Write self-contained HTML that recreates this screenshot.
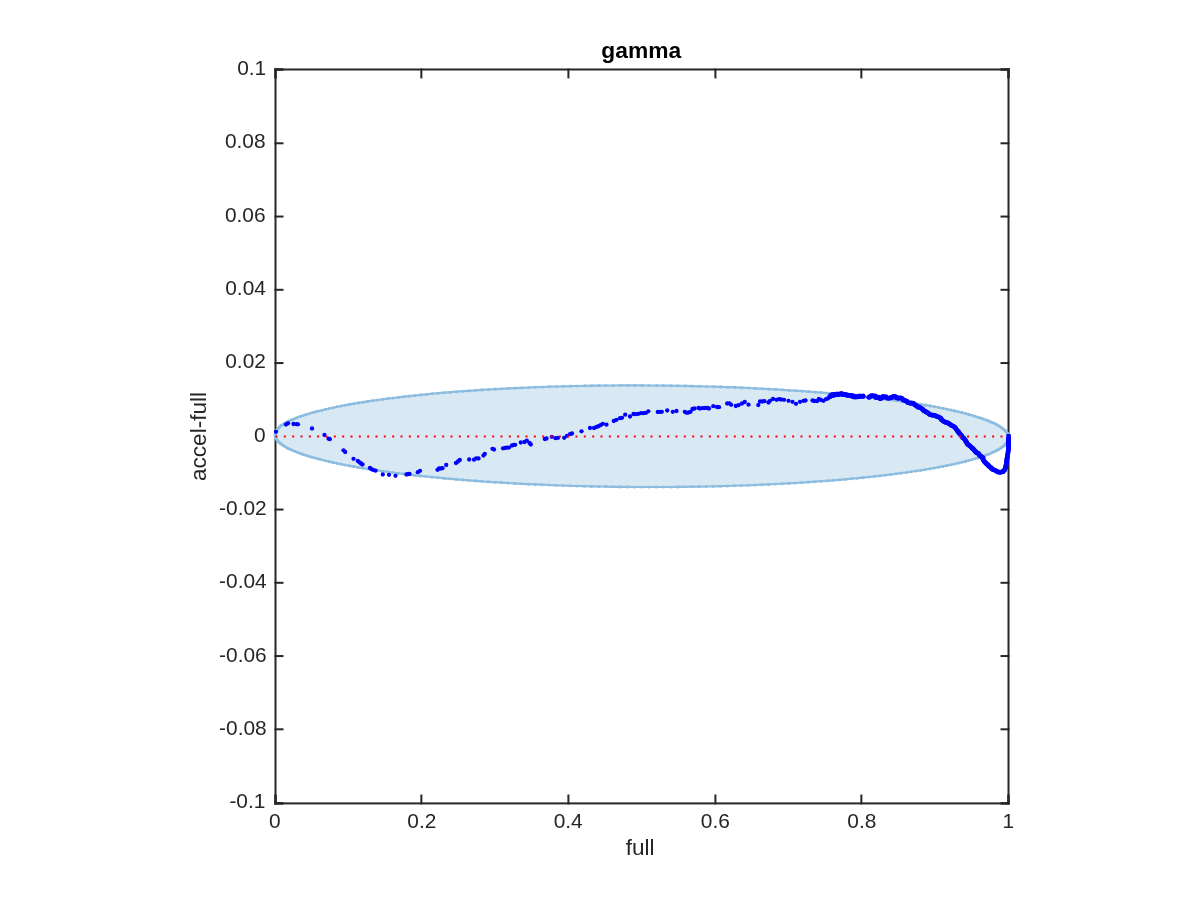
<!DOCTYPE html>
<html lang="en">
<head>
<meta charset="utf-8">
<title>gamma</title>
<style>
html,body{margin:0;padding:0;background:#fff;}
body{width:1200px;height:900px;overflow:hidden;}
svg{display:block;will-change:transform;}
text{font-family:"Liberation Sans",Arial,Helvetica,sans-serif;}
.tk{font-size:20.9px;fill:#262626;}
.lb{font-size:22.6px;fill:#262626;}
.tt{font-size:22.8px;font-weight:bold;fill:#000;}
</style>
</head>
<body>
<svg width="1200" height="900" viewBox="0 0 1200 900">
<rect x="0" y="0" width="1200" height="900" fill="#ffffff"/>
<g stroke="#262626" stroke-width="2" fill="none">
<rect x="275.5" y="69.5" width="733.0" height="733.9"/>
<line x1="421.35" y1="804.4" x2="421.35" y2="794.5"/><line x1="421.35" y1="68.5" x2="421.35" y2="78.4"/>
<line x1="568.4" y1="804.4" x2="568.4" y2="794.5"/><line x1="568.4" y1="68.5" x2="568.4" y2="78.4"/>
<line x1="715.4" y1="804.4" x2="715.4" y2="794.5"/><line x1="715.4" y1="68.5" x2="715.4" y2="78.4"/>
<line x1="861.35" y1="804.4" x2="861.35" y2="794.5"/><line x1="861.35" y1="68.5" x2="861.35" y2="78.4"/>
<line x1="274.5" y1="143.3" x2="283.5" y2="143.3"/><line x1="1009.5" y1="143.3" x2="1000.5" y2="143.3"/>
<line x1="274.5" y1="216.55" x2="283.5" y2="216.55"/><line x1="1009.5" y1="216.55" x2="1000.5" y2="216.55"/>
<line x1="274.5" y1="289.8" x2="283.5" y2="289.8"/><line x1="1009.5" y1="289.8" x2="1000.5" y2="289.8"/>
<line x1="274.5" y1="363.05" x2="283.5" y2="363.05"/><line x1="1009.5" y1="363.05" x2="1000.5" y2="363.05"/>
<line x1="274.5" y1="436.3" x2="283.5" y2="436.3"/><line x1="1009.5" y1="436.3" x2="1000.5" y2="436.3"/>
<line x1="274.5" y1="509.55" x2="283.5" y2="509.55"/><line x1="1009.5" y1="509.55" x2="1000.5" y2="509.55"/>
<line x1="274.5" y1="582.8" x2="283.5" y2="582.8"/><line x1="1009.5" y1="582.8" x2="1000.5" y2="582.8"/>
<line x1="274.5" y1="656.05" x2="283.5" y2="656.05"/><line x1="1009.5" y1="656.05" x2="1000.5" y2="656.05"/>
<line x1="274.5" y1="729.3" x2="283.5" y2="729.3"/><line x1="1009.5" y1="729.3" x2="1000.5" y2="729.3"/>
</g>
<g stroke="#262626" stroke-width="2.6" fill="none">
<line x1="275.5" y1="804.5" x2="275.5" y2="794.5"/><line x1="275.5" y1="68.4" x2="275.5" y2="78.4"/><line x1="1008.5" y1="804.5" x2="1008.5" y2="794.5"/><line x1="1008.5" y1="68.4" x2="1008.5" y2="78.4"/><line x1="274.4" y1="69.5" x2="283.5" y2="69.5"/><line x1="1009.6" y1="69.5" x2="1000.5" y2="69.5"/><line x1="274.4" y1="803.4" x2="283.5" y2="803.4"/><line x1="1009.6" y1="803.4" x2="1000.5" y2="803.4"/>
</g>
<polygon points="1008.7,437.6 1008.6,436.6 1008.4,435.6 1008.1,434.6 1007.6,433.6 1007.0,432.7 1006.2,431.7 1005.3,430.7 1004.2,429.7 1003.0,428.7 1001.7,427.7 1000.2,426.7 998.6,425.7 996.9,424.8 995.0,423.8 993.0,422.8 990.8,421.9 988.5,420.9 986.1,420.0 983.5,419.0 980.9,418.1 978.0,417.2 975.1,416.2 972.0,415.3 968.8,414.4 965.5,413.5 962.0,412.6 958.4,411.8 954.7,410.9 950.9,410.0 947.0,409.2 942.9,408.3 938.8,407.5 934.5,406.7 930.1,405.9 925.6,405.1 920.9,404.3 916.2,403.5 911.4,402.8 906.4,402.0 901.4,401.3 896.3,400.6 891.0,399.9 885.7,399.2 880.3,398.5 874.7,397.9 869.1,397.2 863.4,396.6 857.7,396.0 851.8,395.4 845.8,394.8 839.8,394.2 833.7,393.7 827.5,393.1 821.3,392.6 815.0,392.1 808.6,391.6 802.1,391.1 795.6,390.7 789.1,390.3 782.4,389.8 775.8,389.4 769.0,389.1 762.3,388.7 755.4,388.4 748.6,388.0 741.7,387.7 734.7,387.4 727.7,387.2 720.7,386.9 713.7,386.7 706.6,386.5 699.5,386.3 692.3,386.1 685.2,385.9 678.0,385.8 670.9,385.7 663.7,385.6 656.5,385.5 649.3,385.5 642.1,385.4 634.9,385.4 627.7,385.4 620.5,385.4 613.3,385.5 606.1,385.5 599.0,385.6 591.8,385.7 584.7,385.8 577.6,386.0 570.5,386.1 563.5,386.3 556.5,386.5 549.5,386.7 542.5,387.0 535.6,387.2 528.7,387.5 521.9,387.8 515.1,388.1 508.4,388.4 501.7,388.8 495.1,389.1 488.5,389.5 482.0,389.9 475.6,390.3 469.2,390.8 462.8,391.2 456.6,391.7 450.4,392.2 444.3,392.7 438.3,393.2 432.3,393.7 426.5,394.3 420.7,394.9 415.0,395.5 409.4,396.1 403.8,396.7 398.4,397.3 393.1,398.0 387.8,398.6 382.7,399.3 377.6,400.0 372.7,400.7 367.8,401.4 363.1,402.2 358.5,402.9 354.0,403.7 349.6,404.4 345.3,405.2 341.1,406.0 337.0,406.8 333.1,407.7 329.3,408.5 325.6,409.3 322.0,410.2 318.5,411.0 315.2,411.9 312.0,412.8 308.9,413.7 305.9,414.6 303.1,415.5 300.4,416.4 297.8,417.3 295.4,418.3 293.1,419.2 291.0,420.1 288.9,421.1 287.0,422.0 285.3,423.0 283.7,424.0 282.2,424.9 280.8,425.9 279.6,426.9 278.6,427.9 277.7,428.9 276.9,429.8 276.2,430.8 275.8,431.8 275.4,432.8 275.2,433.8 275.1,434.8 275.2,435.8 275.4,436.8 275.7,437.8 276.2,438.8 276.8,439.8 277.6,440.8 278.5,441.8 279.6,442.8 280.8,443.8 282.1,444.8 283.6,445.7 285.2,446.7 286.9,447.7 288.8,448.7 290.8,449.6 293.0,450.6 295.3,451.5 297.7,452.5 300.3,453.4 302.9,454.4 305.8,455.3 308.7,456.2 311.8,457.1 315.0,458.0 318.3,458.9 321.8,459.8 325.4,460.7 329.1,461.6 332.9,462.4 336.8,463.3 340.9,464.1 345.0,465.0 349.3,465.8 353.7,466.6 358.2,467.4 362.9,468.2 367.6,468.9 372.4,469.7 377.4,470.4 382.4,471.2 387.5,471.9 392.8,472.6 398.1,473.3 403.5,473.9 409.1,474.6 414.7,475.3 420.4,475.9 426.1,476.5 432.0,477.1 438.0,477.7 444.0,478.3 450.1,478.8 456.3,479.3 462.5,479.9 468.8,480.4 475.2,480.9 481.7,481.3 488.2,481.8 494.7,482.2 501.4,482.6 508.0,483.0 514.8,483.4 521.5,483.8 528.4,484.1 535.2,484.4 542.1,484.7 549.1,485.0 556.1,485.3 563.1,485.5 570.2,485.8 577.2,486.0 584.3,486.2 591.5,486.4 598.6,486.5 605.8,486.6 612.9,486.8 620.1,486.9 627.3,486.9 634.5,487.0 641.7,487.0 648.9,487.0 656.1,487.0 663.3,487.0 670.5,487.0 677.7,486.9 684.8,486.8 692.0,486.7 699.1,486.6 706.2,486.5 713.3,486.3 720.3,486.2 727.3,486.0 734.3,485.7 741.3,485.5 748.2,485.3 755.1,485.0 761.9,484.7 768.7,484.4 775.4,484.0 782.1,483.7 788.7,483.3 795.3,483.0 801.8,482.6 808.2,482.1 814.6,481.7 821.0,481.2 827.2,480.8 833.4,480.3 839.5,479.8 845.5,479.3 851.5,478.7 857.3,478.2 863.1,477.6 868.8,477.0 874.4,476.4 880.0,475.8 885.4,475.1 890.7,474.5 896.0,473.8 901.1,473.1 906.2,472.5 911.1,471.7 916.0,471.0 920.7,470.3 925.3,469.5 929.8,468.8 934.2,468.0 938.5,467.2 942.7,466.4 946.8,465.6 950.7,464.8 954.5,464.0 958.3,463.1 961.8,462.3 965.3,461.4 968.6,460.5 971.8,459.7 974.9,458.8 977.9,457.9 980.7,457.0 983.4,456.1 986.0,455.1 988.4,454.2 990.7,453.3 992.8,452.3 994.9,451.4 996.8,450.4 998.5,449.5 1000.1,448.5 1001.6,447.5 1003.0,446.5 1004.2,445.6 1005.2,444.6 1006.1,443.6 1006.9,442.6 1007.6,441.6 1008.0,440.6 1008.4,439.6 1008.6,438.6" fill="#d9e9f4" stroke="#8cbde0" stroke-width="2.2" stroke-linejoin="round"/>
<g fill="#8cbde0"><circle cx="1008.7" cy="437.6" r="1.55"/><circle cx="1008.6" cy="436.6" r="1.55"/><circle cx="1008.4" cy="435.6" r="1.55"/><circle cx="1008.1" cy="434.6" r="1.55"/><circle cx="1007.6" cy="433.6" r="1.55"/><circle cx="1007.0" cy="432.7" r="1.55"/><circle cx="1006.2" cy="431.7" r="1.55"/><circle cx="1005.3" cy="430.7" r="1.55"/><circle cx="1004.2" cy="429.7" r="1.55"/><circle cx="1003.0" cy="428.7" r="1.55"/><circle cx="1001.7" cy="427.7" r="1.55"/><circle cx="1000.2" cy="426.7" r="1.55"/><circle cx="998.6" cy="425.7" r="1.55"/><circle cx="996.9" cy="424.8" r="1.55"/><circle cx="995.0" cy="423.8" r="1.55"/><circle cx="993.0" cy="422.8" r="1.55"/><circle cx="990.8" cy="421.9" r="1.55"/><circle cx="988.5" cy="420.9" r="1.55"/><circle cx="986.1" cy="420.0" r="1.55"/><circle cx="983.5" cy="419.0" r="1.55"/><circle cx="980.9" cy="418.1" r="1.55"/><circle cx="978.0" cy="417.2" r="1.55"/><circle cx="975.1" cy="416.2" r="1.55"/><circle cx="972.0" cy="415.3" r="1.55"/><circle cx="968.8" cy="414.4" r="1.55"/><circle cx="965.5" cy="413.5" r="1.55"/><circle cx="962.0" cy="412.6" r="1.55"/><circle cx="958.4" cy="411.8" r="1.55"/><circle cx="954.7" cy="410.9" r="1.55"/><circle cx="950.9" cy="410.0" r="1.55"/><circle cx="947.0" cy="409.2" r="1.55"/><circle cx="942.9" cy="408.3" r="1.55"/><circle cx="938.8" cy="407.5" r="1.55"/><circle cx="934.5" cy="406.7" r="1.55"/><circle cx="930.1" cy="405.9" r="1.55"/><circle cx="925.6" cy="405.1" r="1.55"/><circle cx="920.9" cy="404.3" r="1.55"/><circle cx="916.2" cy="403.5" r="1.55"/><circle cx="911.4" cy="402.8" r="1.55"/><circle cx="906.4" cy="402.0" r="1.55"/><circle cx="901.4" cy="401.3" r="1.55"/><circle cx="896.3" cy="400.6" r="1.55"/><circle cx="891.0" cy="399.9" r="1.55"/><circle cx="885.7" cy="399.2" r="1.55"/><circle cx="880.3" cy="398.5" r="1.55"/><circle cx="874.7" cy="397.9" r="1.55"/><circle cx="869.1" cy="397.2" r="1.55"/><circle cx="863.4" cy="396.6" r="1.55"/><circle cx="857.7" cy="396.0" r="1.55"/><circle cx="851.8" cy="395.4" r="1.55"/><circle cx="845.8" cy="394.8" r="1.55"/><circle cx="839.8" cy="394.2" r="1.55"/><circle cx="833.7" cy="393.7" r="1.55"/><circle cx="827.5" cy="393.1" r="1.55"/><circle cx="821.3" cy="392.6" r="1.55"/><circle cx="815.0" cy="392.1" r="1.55"/><circle cx="808.6" cy="391.6" r="1.55"/><circle cx="802.1" cy="391.1" r="1.55"/><circle cx="795.6" cy="390.7" r="1.55"/><circle cx="789.1" cy="390.3" r="1.55"/><circle cx="782.4" cy="389.8" r="1.55"/><circle cx="775.8" cy="389.4" r="1.55"/><circle cx="769.0" cy="389.1" r="1.55"/><circle cx="762.3" cy="388.7" r="1.55"/><circle cx="755.4" cy="388.4" r="1.55"/><circle cx="748.6" cy="388.0" r="1.55"/><circle cx="741.7" cy="387.7" r="1.55"/><circle cx="734.7" cy="387.4" r="1.55"/><circle cx="727.7" cy="387.2" r="1.55"/><circle cx="720.7" cy="386.9" r="1.55"/><circle cx="713.7" cy="386.7" r="1.55"/><circle cx="706.6" cy="386.5" r="1.55"/><circle cx="699.5" cy="386.3" r="1.55"/><circle cx="692.3" cy="386.1" r="1.55"/><circle cx="685.2" cy="385.9" r="1.55"/><circle cx="678.0" cy="385.8" r="1.55"/><circle cx="670.9" cy="385.7" r="1.55"/><circle cx="663.7" cy="385.6" r="1.55"/><circle cx="656.5" cy="385.5" r="1.55"/><circle cx="649.3" cy="385.5" r="1.55"/><circle cx="642.1" cy="385.4" r="1.55"/><circle cx="634.9" cy="385.4" r="1.55"/><circle cx="627.7" cy="385.4" r="1.55"/><circle cx="620.5" cy="385.4" r="1.55"/><circle cx="613.3" cy="385.5" r="1.55"/><circle cx="606.1" cy="385.5" r="1.55"/><circle cx="599.0" cy="385.6" r="1.55"/><circle cx="591.8" cy="385.7" r="1.55"/><circle cx="584.7" cy="385.8" r="1.55"/><circle cx="577.6" cy="386.0" r="1.55"/><circle cx="570.5" cy="386.1" r="1.55"/><circle cx="563.5" cy="386.3" r="1.55"/><circle cx="556.5" cy="386.5" r="1.55"/><circle cx="549.5" cy="386.7" r="1.55"/><circle cx="542.5" cy="387.0" r="1.55"/><circle cx="535.6" cy="387.2" r="1.55"/><circle cx="528.7" cy="387.5" r="1.55"/><circle cx="521.9" cy="387.8" r="1.55"/><circle cx="515.1" cy="388.1" r="1.55"/><circle cx="508.4" cy="388.4" r="1.55"/><circle cx="501.7" cy="388.8" r="1.55"/><circle cx="495.1" cy="389.1" r="1.55"/><circle cx="488.5" cy="389.5" r="1.55"/><circle cx="482.0" cy="389.9" r="1.55"/><circle cx="475.6" cy="390.3" r="1.55"/><circle cx="469.2" cy="390.8" r="1.55"/><circle cx="462.8" cy="391.2" r="1.55"/><circle cx="456.6" cy="391.7" r="1.55"/><circle cx="450.4" cy="392.2" r="1.55"/><circle cx="444.3" cy="392.7" r="1.55"/><circle cx="438.3" cy="393.2" r="1.55"/><circle cx="432.3" cy="393.7" r="1.55"/><circle cx="426.5" cy="394.3" r="1.55"/><circle cx="420.7" cy="394.9" r="1.55"/><circle cx="415.0" cy="395.5" r="1.55"/><circle cx="409.4" cy="396.1" r="1.55"/><circle cx="403.8" cy="396.7" r="1.55"/><circle cx="398.4" cy="397.3" r="1.55"/><circle cx="393.1" cy="398.0" r="1.55"/><circle cx="387.8" cy="398.6" r="1.55"/><circle cx="382.7" cy="399.3" r="1.55"/><circle cx="377.6" cy="400.0" r="1.55"/><circle cx="372.7" cy="400.7" r="1.55"/><circle cx="367.8" cy="401.4" r="1.55"/><circle cx="363.1" cy="402.2" r="1.55"/><circle cx="358.5" cy="402.9" r="1.55"/><circle cx="354.0" cy="403.7" r="1.55"/><circle cx="349.6" cy="404.4" r="1.55"/><circle cx="345.3" cy="405.2" r="1.55"/><circle cx="341.1" cy="406.0" r="1.55"/><circle cx="337.0" cy="406.8" r="1.55"/><circle cx="333.1" cy="407.7" r="1.55"/><circle cx="329.3" cy="408.5" r="1.55"/><circle cx="325.6" cy="409.3" r="1.55"/><circle cx="322.0" cy="410.2" r="1.55"/><circle cx="318.5" cy="411.0" r="1.55"/><circle cx="315.2" cy="411.9" r="1.55"/><circle cx="312.0" cy="412.8" r="1.55"/><circle cx="308.9" cy="413.7" r="1.55"/><circle cx="305.9" cy="414.6" r="1.55"/><circle cx="303.1" cy="415.5" r="1.55"/><circle cx="300.4" cy="416.4" r="1.55"/><circle cx="297.8" cy="417.3" r="1.55"/><circle cx="295.4" cy="418.3" r="1.55"/><circle cx="293.1" cy="419.2" r="1.55"/><circle cx="291.0" cy="420.1" r="1.55"/><circle cx="288.9" cy="421.1" r="1.55"/><circle cx="287.0" cy="422.0" r="1.55"/><circle cx="285.3" cy="423.0" r="1.55"/><circle cx="283.7" cy="424.0" r="1.55"/><circle cx="282.2" cy="424.9" r="1.55"/><circle cx="280.8" cy="425.9" r="1.55"/><circle cx="279.6" cy="426.9" r="1.55"/><circle cx="278.6" cy="427.9" r="1.55"/><circle cx="277.7" cy="428.9" r="1.55"/><circle cx="276.9" cy="429.8" r="1.55"/><circle cx="276.2" cy="430.8" r="1.55"/><circle cx="275.8" cy="431.8" r="1.55"/><circle cx="275.4" cy="432.8" r="1.55"/><circle cx="275.2" cy="433.8" r="1.55"/><circle cx="275.1" cy="434.8" r="1.55"/><circle cx="275.2" cy="435.8" r="1.55"/><circle cx="275.4" cy="436.8" r="1.55"/><circle cx="275.7" cy="437.8" r="1.55"/><circle cx="276.2" cy="438.8" r="1.55"/><circle cx="276.8" cy="439.8" r="1.55"/><circle cx="277.6" cy="440.8" r="1.55"/><circle cx="278.5" cy="441.8" r="1.55"/><circle cx="279.6" cy="442.8" r="1.55"/><circle cx="280.8" cy="443.8" r="1.55"/><circle cx="282.1" cy="444.8" r="1.55"/><circle cx="283.6" cy="445.7" r="1.55"/><circle cx="285.2" cy="446.7" r="1.55"/><circle cx="286.9" cy="447.7" r="1.55"/><circle cx="288.8" cy="448.7" r="1.55"/><circle cx="290.8" cy="449.6" r="1.55"/><circle cx="293.0" cy="450.6" r="1.55"/><circle cx="295.3" cy="451.5" r="1.55"/><circle cx="297.7" cy="452.5" r="1.55"/><circle cx="300.3" cy="453.4" r="1.55"/><circle cx="302.9" cy="454.4" r="1.55"/><circle cx="305.8" cy="455.3" r="1.55"/><circle cx="308.7" cy="456.2" r="1.55"/><circle cx="311.8" cy="457.1" r="1.55"/><circle cx="315.0" cy="458.0" r="1.55"/><circle cx="318.3" cy="458.9" r="1.55"/><circle cx="321.8" cy="459.8" r="1.55"/><circle cx="325.4" cy="460.7" r="1.55"/><circle cx="329.1" cy="461.6" r="1.55"/><circle cx="332.9" cy="462.4" r="1.55"/><circle cx="336.8" cy="463.3" r="1.55"/><circle cx="340.9" cy="464.1" r="1.55"/><circle cx="345.0" cy="465.0" r="1.55"/><circle cx="349.3" cy="465.8" r="1.55"/><circle cx="353.7" cy="466.6" r="1.55"/><circle cx="358.2" cy="467.4" r="1.55"/><circle cx="362.9" cy="468.2" r="1.55"/><circle cx="367.6" cy="468.9" r="1.55"/><circle cx="372.4" cy="469.7" r="1.55"/><circle cx="377.4" cy="470.4" r="1.55"/><circle cx="382.4" cy="471.2" r="1.55"/><circle cx="387.5" cy="471.9" r="1.55"/><circle cx="392.8" cy="472.6" r="1.55"/><circle cx="398.1" cy="473.3" r="1.55"/><circle cx="403.5" cy="473.9" r="1.55"/><circle cx="409.1" cy="474.6" r="1.55"/><circle cx="414.7" cy="475.3" r="1.55"/><circle cx="420.4" cy="475.9" r="1.55"/><circle cx="426.1" cy="476.5" r="1.55"/><circle cx="432.0" cy="477.1" r="1.55"/><circle cx="438.0" cy="477.7" r="1.55"/><circle cx="444.0" cy="478.3" r="1.55"/><circle cx="450.1" cy="478.8" r="1.55"/><circle cx="456.3" cy="479.3" r="1.55"/><circle cx="462.5" cy="479.9" r="1.55"/><circle cx="468.8" cy="480.4" r="1.55"/><circle cx="475.2" cy="480.9" r="1.55"/><circle cx="481.7" cy="481.3" r="1.55"/><circle cx="488.2" cy="481.8" r="1.55"/><circle cx="494.7" cy="482.2" r="1.55"/><circle cx="501.4" cy="482.6" r="1.55"/><circle cx="508.0" cy="483.0" r="1.55"/><circle cx="514.8" cy="483.4" r="1.55"/><circle cx="521.5" cy="483.8" r="1.55"/><circle cx="528.4" cy="484.1" r="1.55"/><circle cx="535.2" cy="484.4" r="1.55"/><circle cx="542.1" cy="484.7" r="1.55"/><circle cx="549.1" cy="485.0" r="1.55"/><circle cx="556.1" cy="485.3" r="1.55"/><circle cx="563.1" cy="485.5" r="1.55"/><circle cx="570.2" cy="485.8" r="1.55"/><circle cx="577.2" cy="486.0" r="1.55"/><circle cx="584.3" cy="486.2" r="1.55"/><circle cx="591.5" cy="486.4" r="1.55"/><circle cx="598.6" cy="486.5" r="1.55"/><circle cx="605.8" cy="486.6" r="1.55"/><circle cx="612.9" cy="486.8" r="1.55"/><circle cx="620.1" cy="486.9" r="1.55"/><circle cx="627.3" cy="486.9" r="1.55"/><circle cx="634.5" cy="487.0" r="1.55"/><circle cx="641.7" cy="487.0" r="1.55"/><circle cx="648.9" cy="487.0" r="1.55"/><circle cx="656.1" cy="487.0" r="1.55"/><circle cx="663.3" cy="487.0" r="1.55"/><circle cx="670.5" cy="487.0" r="1.55"/><circle cx="677.7" cy="486.9" r="1.55"/><circle cx="684.8" cy="486.8" r="1.55"/><circle cx="692.0" cy="486.7" r="1.55"/><circle cx="699.1" cy="486.6" r="1.55"/><circle cx="706.2" cy="486.5" r="1.55"/><circle cx="713.3" cy="486.3" r="1.55"/><circle cx="720.3" cy="486.2" r="1.55"/><circle cx="727.3" cy="486.0" r="1.55"/><circle cx="734.3" cy="485.7" r="1.55"/><circle cx="741.3" cy="485.5" r="1.55"/><circle cx="748.2" cy="485.3" r="1.55"/><circle cx="755.1" cy="485.0" r="1.55"/><circle cx="761.9" cy="484.7" r="1.55"/><circle cx="768.7" cy="484.4" r="1.55"/><circle cx="775.4" cy="484.0" r="1.55"/><circle cx="782.1" cy="483.7" r="1.55"/><circle cx="788.7" cy="483.3" r="1.55"/><circle cx="795.3" cy="483.0" r="1.55"/><circle cx="801.8" cy="482.6" r="1.55"/><circle cx="808.2" cy="482.1" r="1.55"/><circle cx="814.6" cy="481.7" r="1.55"/><circle cx="821.0" cy="481.2" r="1.55"/><circle cx="827.2" cy="480.8" r="1.55"/><circle cx="833.4" cy="480.3" r="1.55"/><circle cx="839.5" cy="479.8" r="1.55"/><circle cx="845.5" cy="479.3" r="1.55"/><circle cx="851.5" cy="478.7" r="1.55"/><circle cx="857.3" cy="478.2" r="1.55"/><circle cx="863.1" cy="477.6" r="1.55"/><circle cx="868.8" cy="477.0" r="1.55"/><circle cx="874.4" cy="476.4" r="1.55"/><circle cx="880.0" cy="475.8" r="1.55"/><circle cx="885.4" cy="475.1" r="1.55"/><circle cx="890.7" cy="474.5" r="1.55"/><circle cx="896.0" cy="473.8" r="1.55"/><circle cx="901.1" cy="473.1" r="1.55"/><circle cx="906.2" cy="472.5" r="1.55"/><circle cx="911.1" cy="471.7" r="1.55"/><circle cx="916.0" cy="471.0" r="1.55"/><circle cx="920.7" cy="470.3" r="1.55"/><circle cx="925.3" cy="469.5" r="1.55"/><circle cx="929.8" cy="468.8" r="1.55"/><circle cx="934.2" cy="468.0" r="1.55"/><circle cx="938.5" cy="467.2" r="1.55"/><circle cx="942.7" cy="466.4" r="1.55"/><circle cx="946.8" cy="465.6" r="1.55"/><circle cx="950.7" cy="464.8" r="1.55"/><circle cx="954.5" cy="464.0" r="1.55"/><circle cx="958.3" cy="463.1" r="1.55"/><circle cx="961.8" cy="462.3" r="1.55"/><circle cx="965.3" cy="461.4" r="1.55"/><circle cx="968.6" cy="460.5" r="1.55"/><circle cx="971.8" cy="459.7" r="1.55"/><circle cx="974.9" cy="458.8" r="1.55"/><circle cx="977.9" cy="457.9" r="1.55"/><circle cx="980.7" cy="457.0" r="1.55"/><circle cx="983.4" cy="456.1" r="1.55"/><circle cx="986.0" cy="455.1" r="1.55"/><circle cx="988.4" cy="454.2" r="1.55"/><circle cx="990.7" cy="453.3" r="1.55"/><circle cx="992.8" cy="452.3" r="1.55"/><circle cx="994.9" cy="451.4" r="1.55"/><circle cx="996.8" cy="450.4" r="1.55"/><circle cx="998.5" cy="449.5" r="1.55"/><circle cx="1000.1" cy="448.5" r="1.55"/><circle cx="1001.6" cy="447.5" r="1.55"/><circle cx="1003.0" cy="446.5" r="1.55"/><circle cx="1004.2" cy="445.6" r="1.55"/><circle cx="1005.2" cy="444.6" r="1.55"/><circle cx="1006.1" cy="443.6" r="1.55"/><circle cx="1006.9" cy="442.6" r="1.55"/><circle cx="1007.6" cy="441.6" r="1.55"/><circle cx="1008.0" cy="440.6" r="1.55"/><circle cx="1008.4" cy="439.6" r="1.55"/><circle cx="1008.6" cy="438.6" r="1.55"/></g>
<g fill="#0000ff">
<circle cx="276.0" cy="431.8" r="2.15"/><circle cx="286.0" cy="424.5" r="2.15"/><circle cx="288.0" cy="423.3" r="2.15"/><circle cx="293.5" cy="424.0" r="2.15"/><circle cx="296.5" cy="424.2" r="2.15"/><circle cx="298.0" cy="424.3" r="2.15"/><circle cx="312.0" cy="428.5" r="2.15"/><circle cx="324.5" cy="435.0" r="2.15"/><circle cx="328.5" cy="438.7" r="2.15"/><circle cx="329.8" cy="439.2" r="2.15"/><circle cx="343.5" cy="450.3" r="2.15"/><circle cx="345.2" cy="452.0" r="2.15"/><circle cx="353.5" cy="458.8" r="2.15"/><circle cx="357.8" cy="461.0" r="2.15"/><circle cx="359.5" cy="462.3" r="2.15"/><circle cx="361.0" cy="463.5" r="2.15"/><circle cx="362.5" cy="464.5" r="2.15"/><circle cx="370.0" cy="468.0" r="2.15"/><circle cx="371.5" cy="469.2" r="2.15"/><circle cx="373.0" cy="469.8" r="2.15"/><circle cx="375.5" cy="470.7" r="2.15"/><circle cx="382.8" cy="474.5" r="2.15"/><circle cx="389.0" cy="474.8" r="2.15"/><circle cx="395.5" cy="475.8" r="2.15"/><circle cx="406.5" cy="474.5" r="2.15"/><circle cx="408.0" cy="474.0" r="2.15"/><circle cx="409.5" cy="474.0" r="2.15"/><circle cx="417.8" cy="472.2" r="2.15"/><circle cx="420.0" cy="470.8" r="2.15"/><circle cx="437.5" cy="469.8" r="2.15"/><circle cx="439.0" cy="468.5" r="2.15"/><circle cx="441.0" cy="468.5" r="2.15"/><circle cx="442.5" cy="468.2" r="2.15"/><circle cx="446.2" cy="465.0" r="2.15"/><circle cx="456.0" cy="463.0" r="2.15"/><circle cx="458.0" cy="461.5" r="2.15"/><circle cx="459.8" cy="460.0" r="2.15"/><circle cx="469.2" cy="459.5" r="2.15"/><circle cx="474.0" cy="459.7" r="2.15"/><circle cx="476.2" cy="458.3" r="2.15"/><circle cx="478.5" cy="458.5" r="2.15"/><circle cx="483.5" cy="455.5" r="2.15"/><circle cx="484.8" cy="454.0" r="2.15"/><circle cx="492.5" cy="448.8" r="2.15"/><circle cx="494.0" cy="449.5" r="2.15"/><circle cx="503.0" cy="448.3" r="2.15"/><circle cx="505.0" cy="448.0" r="2.15"/><circle cx="507.0" cy="447.6" r="2.15"/><circle cx="509.0" cy="447.6" r="2.15"/><circle cx="512.0" cy="445.5" r="2.15"/><circle cx="514.0" cy="444.8" r="2.15"/><circle cx="515.2" cy="444.8" r="2.15"/><circle cx="520.8" cy="442.5" r="2.15"/><circle cx="524.5" cy="442.0" r="2.15"/><circle cx="526.8" cy="440.7" r="2.15"/><circle cx="529.5" cy="443.0" r="2.15"/><circle cx="530.8" cy="444.5" r="2.15"/><circle cx="544.8" cy="439.0" r="2.15"/><circle cx="546.5" cy="438.5" r="2.15"/><circle cx="551.8" cy="436.8" r="2.15"/><circle cx="555.5" cy="438.2" r="2.15"/><circle cx="558.0" cy="437.8" r="2.15"/><circle cx="564.2" cy="437.8" r="2.15"/><circle cx="567.0" cy="435.8" r="2.15"/><circle cx="570.0" cy="434.2" r="2.15"/><circle cx="572.0" cy="433.5" r="2.15"/><circle cx="581.5" cy="431.3" r="2.15"/><circle cx="590.0" cy="428.0" r="2.15"/><circle cx="594.0" cy="428.0" r="2.15"/><circle cx="596.5" cy="427.0" r="2.15"/><circle cx="598.5" cy="426.2" r="2.15"/><circle cx="600.5" cy="425.2" r="2.15"/><circle cx="602.8" cy="423.8" r="2.15"/><circle cx="606.5" cy="424.7" r="2.15"/><circle cx="613.8" cy="421.0" r="2.15"/><circle cx="616.5" cy="419.8" r="2.15"/><circle cx="620.0" cy="418.2" r="2.15"/><circle cx="622.0" cy="417.8" r="2.15"/><circle cx="625.2" cy="414.7" r="2.15"/><circle cx="630.0" cy="416.5" r="2.15"/><circle cx="633.5" cy="414.0" r="2.15"/><circle cx="636.0" cy="414.2" r="2.15"/><circle cx="638.5" cy="413.8" r="2.15"/><circle cx="641.0" cy="413.2" r="2.15"/><circle cx="643.5" cy="413.2" r="2.15"/><circle cx="646.0" cy="412.8" r="2.15"/><circle cx="648.3" cy="411.3" r="2.15"/><circle cx="657.8" cy="412.0" r="2.15"/><circle cx="660.0" cy="411.8" r="2.15"/><circle cx="661.8" cy="411.8" r="2.15"/><circle cx="667.2" cy="410.5" r="2.15"/><circle cx="672.8" cy="411.8" r="2.15"/><circle cx="676.5" cy="411.0" r="2.15"/><circle cx="684.8" cy="411.8" r="2.15"/><circle cx="686.5" cy="412.8" r="2.15"/><circle cx="688.5" cy="412.5" r="2.15"/><circle cx="690.5" cy="411.8" r="2.15"/><circle cx="692.5" cy="409.0" r="2.15"/><circle cx="694.5" cy="408.5" r="2.15"/><circle cx="698.5" cy="408.0" r="2.15"/><circle cx="700.0" cy="408.5" r="2.15"/><circle cx="702.5" cy="408.2" r="2.15"/><circle cx="705.0" cy="408.0" r="2.15"/><circle cx="707.5" cy="408.0" r="2.15"/><circle cx="709.0" cy="408.5" r="2.15"/><circle cx="713.3" cy="406.2" r="2.15"/><circle cx="717.0" cy="407.0" r="2.15"/><circle cx="719.0" cy="407.2" r="2.15"/><circle cx="727.2" cy="403.5" r="2.15"/><circle cx="729.5" cy="403.5" r="2.15"/><circle cx="731.2" cy="404.8" r="2.15"/><circle cx="735.8" cy="406.0" r="2.15"/><circle cx="738.5" cy="405.2" r="2.15"/><circle cx="742.0" cy="403.5" r="2.15"/><circle cx="744.8" cy="402.0" r="2.15"/><circle cx="748.5" cy="404.7" r="2.15"/><circle cx="758.3" cy="405.0" r="2.15"/><circle cx="760.0" cy="401.5" r="2.15"/><circle cx="762.5" cy="401.5" r="2.15"/><circle cx="764.5" cy="401.2" r="2.15"/><circle cx="768.5" cy="402.5" r="2.15"/><circle cx="770.0" cy="400.8" r="2.15"/><circle cx="773.0" cy="399.0" r="2.15"/><circle cx="776.5" cy="399.8" r="2.15"/><circle cx="779.0" cy="399.2" r="2.15"/><circle cx="781.0" cy="399.5" r="2.15"/><circle cx="784.0" cy="399.8" r="2.15"/><circle cx="788.5" cy="400.8" r="2.15"/><circle cx="792.5" cy="401.8" r="2.15"/><circle cx="796.0" cy="403.8" r="2.15"/><circle cx="800.0" cy="401.8" r="2.15"/><circle cx="803.5" cy="400.8" r="2.15"/><circle cx="805.5" cy="400.5" r="2.15"/><circle cx="812.5" cy="400.5" r="2.15"/><circle cx="814.5" cy="401.0" r="2.15"/><circle cx="817.0" cy="401.2" r="2.15"/><circle cx="818.8" cy="399.0" r="2.15"/><circle cx="821.0" cy="400.0" r="2.15"/><circle cx="823.5" cy="400.8" r="2.15"/><circle cx="826.0" cy="399.2" r="2.15"/><circle cx="828.0" cy="398.4" r="2.15"/>
</g>
<g fill="#0000ff">
<circle cx="829.5" cy="396.8" r="2.3"/><circle cx="830.3" cy="396.7" r="2.3"/><circle cx="830.4" cy="395.8" r="2.3"/><circle cx="831.1" cy="395.0" r="2.3"/><circle cx="831.8" cy="395.7" r="2.3"/><circle cx="832.4" cy="394.4" r="2.3"/><circle cx="833.3" cy="395.7" r="2.3"/><circle cx="833.9" cy="394.9" r="2.3"/><circle cx="834.5" cy="394.7" r="2.3"/><circle cx="835.2" cy="394.4" r="2.3"/><circle cx="835.9" cy="394.4" r="2.3"/><circle cx="836.7" cy="394.9" r="2.3"/><circle cx="837.2" cy="393.7" r="2.3"/><circle cx="838.0" cy="394.4" r="2.3"/><circle cx="838.7" cy="394.5" r="2.3"/><circle cx="839.4" cy="394.1" r="2.3"/><circle cx="840.2" cy="394.4" r="2.3"/><circle cx="840.7" cy="393.6" r="2.3"/><circle cx="841.7" cy="393.6" r="2.3"/><circle cx="842.3" cy="393.9" r="2.3"/><circle cx="842.9" cy="394.7" r="2.3"/><circle cx="843.6" cy="394.4" r="2.3"/><circle cx="844.4" cy="394.3" r="2.3"/><circle cx="845.0" cy="394.7" r="2.3"/><circle cx="845.7" cy="394.5" r="2.3"/><circle cx="846.4" cy="394.5" r="2.3"/><circle cx="847.0" cy="395.4" r="2.3"/><circle cx="847.7" cy="395.5" r="2.3"/><circle cx="848.5" cy="395.0" r="2.3"/><circle cx="849.1" cy="395.4" r="2.3"/><circle cx="849.8" cy="395.3" r="2.3"/><circle cx="850.4" cy="395.8" r="2.3"/><circle cx="851.2" cy="395.7" r="2.3"/><circle cx="852.1" cy="395.4" r="2.3"/><circle cx="852.4" cy="396.7" r="2.3"/><circle cx="853.4" cy="395.8" r="2.3"/><circle cx="853.9" cy="396.6" r="2.3"/><circle cx="854.4" cy="397.2" r="2.3"/><circle cx="855.4" cy="396.5" r="2.3"/><circle cx="855.9" cy="397.1" r="2.3"/><circle cx="856.2" cy="396.2" r="2.3"/><circle cx="857.1" cy="397.0" r="2.3"/><circle cx="857.8" cy="397.0" r="2.3"/><circle cx="858.4" cy="396.5" r="2.3"/><circle cx="859.2" cy="396.8" r="2.3"/><circle cx="859.7" cy="395.9" r="2.3"/><circle cx="860.6" cy="396.4" r="2.3"/><circle cx="861.3" cy="396.2" r="2.3"/><circle cx="862.0" cy="396.2" r="2.3"/><circle cx="862.6" cy="396.0" r="2.3"/><circle cx="863.4" cy="396.6" r="2.3"/><circle cx="863.1" cy="395.8" r="2.3"/><circle cx="868.6" cy="397.3" r="2.3"/><circle cx="869.4" cy="397.4" r="2.3"/><circle cx="869.9" cy="396.5" r="2.3"/><circle cx="870.6" cy="396.4" r="2.3"/><circle cx="871.1" cy="395.7" r="2.3"/><circle cx="871.8" cy="395.5" r="2.3"/><circle cx="872.7" cy="395.8" r="2.3"/><circle cx="873.4" cy="395.7" r="2.3"/><circle cx="874.0" cy="396.5" r="2.3"/><circle cx="874.8" cy="395.8" r="2.3"/><circle cx="875.5" cy="396.0" r="2.3"/><circle cx="875.8" cy="397.7" r="2.3"/><circle cx="876.6" cy="397.4" r="2.3"/><circle cx="877.4" cy="397.0" r="2.3"/><circle cx="878.0" cy="397.7" r="2.3"/><circle cx="878.8" cy="397.0" r="2.3"/><circle cx="879.4" cy="397.9" r="2.3"/><circle cx="879.9" cy="398.8" r="2.3"/><circle cx="880.6" cy="398.8" r="2.3"/><circle cx="881.8" cy="398.3" r="2.3"/><circle cx="882.0" cy="397.4" r="2.3"/><circle cx="882.7" cy="397.1" r="2.3"/><circle cx="883.0" cy="396.3" r="2.3"/><circle cx="883.3" cy="396.8" r="2.3"/><circle cx="884.1" cy="396.7" r="2.3"/><circle cx="884.6" cy="397.2" r="2.3"/><circle cx="885.6" cy="396.7" r="2.3"/><circle cx="886.3" cy="396.7" r="2.3"/><circle cx="886.7" cy="397.7" r="2.3"/><circle cx="887.2" cy="398.2" r="2.3"/><circle cx="888.1" cy="398.3" r="2.3"/><circle cx="888.8" cy="398.2" r="2.3"/><circle cx="889.5" cy="398.2" r="2.3"/><circle cx="890.2" cy="398.0" r="2.3"/><circle cx="890.8" cy="397.2" r="2.3"/><circle cx="891.5" cy="397.7" r="2.3"/><circle cx="892.2" cy="397.4" r="2.3"/><circle cx="892.8" cy="396.7" r="2.3"/><circle cx="893.5" cy="396.4" r="2.3"/><circle cx="894.4" cy="396.6" r="2.3"/><circle cx="895.1" cy="396.4" r="2.3"/><circle cx="895.7" cy="397.3" r="2.3"/><circle cx="896.3" cy="397.9" r="2.3"/><circle cx="897.1" cy="397.3" r="2.3"/><circle cx="897.7" cy="398.3" r="2.3"/><circle cx="898.4" cy="398.3" r="2.3"/><circle cx="898.9" cy="398.3" r="2.3"/><circle cx="900.0" cy="397.8" r="2.3"/><circle cx="900.8" cy="397.9" r="2.3"/><circle cx="901.4" cy="398.2" r="2.3"/><circle cx="902.0" cy="398.5" r="2.3"/><circle cx="902.6" cy="398.8" r="2.3"/><circle cx="902.9" cy="399.7" r="2.3"/><circle cx="903.4" cy="400.3" r="2.3"/><circle cx="904.1" cy="400.5" r="2.3"/><circle cx="905.0" cy="400.2" r="2.3"/><circle cx="905.5" cy="400.7" r="2.3"/><circle cx="906.1" cy="401.2" r="2.3"/><circle cx="906.9" cy="401.0" r="2.3"/><circle cx="907.3" cy="401.9" r="2.3"/><circle cx="907.6" cy="402.6" r="2.3"/><circle cx="908.4" cy="402.8" r="2.3"/><circle cx="909.0" cy="403.0" r="2.3"/><circle cx="909.8" cy="403.1" r="2.3"/><circle cx="910.3" cy="402.9" r="2.3"/><circle cx="911.0" cy="403.4" r="2.3"/><circle cx="911.7" cy="402.9" r="2.3"/><circle cx="912.4" cy="403.3" r="2.3"/><circle cx="913.0" cy="403.4" r="2.3"/><circle cx="913.8" cy="403.5" r="2.3"/><circle cx="914.3" cy="404.0" r="2.3"/><circle cx="914.5" cy="404.8" r="2.3"/><circle cx="915.1" cy="405.2" r="2.3"/><circle cx="915.9" cy="405.4" r="2.3"/><circle cx="916.4" cy="405.8" r="2.3"/><circle cx="917.0" cy="406.1" r="2.3"/><circle cx="917.4" cy="407.1" r="2.3"/><circle cx="918.1" cy="407.1" r="2.3"/><circle cx="919.0" cy="406.8" r="2.3"/><circle cx="919.5" cy="407.4" r="2.3"/><circle cx="920.1" cy="407.7" r="2.3"/><circle cx="920.8" cy="408.0" r="2.3"/><circle cx="921.4" cy="408.3" r="2.3"/><circle cx="921.8" cy="408.9" r="2.3"/><circle cx="922.5" cy="409.2" r="2.3"/><circle cx="923.1" cy="409.6" r="2.3"/><circle cx="923.3" cy="410.6" r="2.3"/><circle cx="924.0" cy="410.7" r="2.3"/><circle cx="924.7" cy="410.9" r="2.3"/><circle cx="925.1" cy="411.6" r="2.3"/><circle cx="925.9" cy="411.6" r="2.3"/><circle cx="926.3" cy="412.3" r="2.3"/><circle cx="926.8" cy="412.6" r="2.3"/><circle cx="927.7" cy="412.6" r="2.3"/><circle cx="928.2" cy="413.1" r="2.3"/><circle cx="928.7" cy="413.6" r="2.3"/><circle cx="929.3" cy="414.0" r="2.3"/><circle cx="929.6" cy="414.6" r="2.3"/><circle cx="930.5" cy="414.7" r="2.3"/><circle cx="931.2" cy="415.0" r="2.3"/><circle cx="931.9" cy="414.9" r="2.3"/><circle cx="932.5" cy="415.5" r="2.3"/><circle cx="933.3" cy="415.1" r="2.3"/><circle cx="934.0" cy="415.2" r="2.3"/><circle cx="934.6" cy="415.3" r="2.3"/><circle cx="935.2" cy="415.8" r="2.3"/><circle cx="936.0" cy="415.8" r="2.3"/><circle cx="936.4" cy="416.5" r="2.3"/><circle cx="937.2" cy="416.5" r="2.3"/><circle cx="937.8" cy="416.8" r="2.3"/><circle cx="938.4" cy="417.1" r="2.3"/><circle cx="939.3" cy="417.1" r="2.3"/><circle cx="939.7" cy="417.7" r="2.3"/><circle cx="940.4" cy="418.0" r="2.3"/><circle cx="941.0" cy="418.4" r="2.3"/><circle cx="941.1" cy="419.4" r="2.3"/><circle cx="941.9" cy="419.6" r="2.3"/><circle cx="942.3" cy="420.2" r="2.3"/><circle cx="942.7" cy="420.8" r="2.3"/><circle cx="943.3" cy="421.1" r="2.3"/><circle cx="943.9" cy="421.4" r="2.3"/><circle cx="944.5" cy="421.9" r="2.3"/><circle cx="945.2" cy="422.2" r="2.3"/><circle cx="945.8" cy="422.5" r="2.3"/><circle cx="946.7" cy="422.2" r="2.3"/><circle cx="947.2" cy="422.8" r="2.3"/><circle cx="947.9" cy="422.9" r="2.3"/><circle cx="948.5" cy="423.3" r="2.3"/><circle cx="949.0" cy="423.9" r="2.3"/><circle cx="949.7" cy="424.1" r="2.3"/><circle cx="950.3" cy="424.5" r="2.3"/><circle cx="950.8" cy="425.0" r="2.3"/><circle cx="951.3" cy="425.4" r="2.3"/><circle cx="952.1" cy="425.5" r="2.3"/><circle cx="952.7" cy="426.0" r="2.3"/><circle cx="953.3" cy="426.2" r="2.3"/><circle cx="953.9" cy="426.6" r="2.3"/><circle cx="954.4" cy="427.1" r="2.3"/><circle cx="955.1" cy="427.4" r="2.3"/><circle cx="955.5" cy="428.0" r="2.3"/><circle cx="955.9" cy="428.5" r="2.3"/><circle cx="956.1" cy="429.3" r="2.3"/><circle cx="956.7" cy="429.8" r="2.3"/><circle cx="957.0" cy="430.4" r="2.3"/><circle cx="957.4" cy="431.0" r="2.3"/><circle cx="958.3" cy="431.2" r="2.3"/><circle cx="958.5" cy="431.9" r="2.3"/><circle cx="958.6" cy="432.6" r="2.3"/><circle cx="959.0" cy="433.2" r="2.3"/><circle cx="959.9" cy="433.5" r="2.3"/><circle cx="960.2" cy="434.1" r="2.3"/><circle cx="960.3" cy="434.7" r="2.3"/><circle cx="961.0" cy="434.9" r="2.3"/><circle cx="961.4" cy="435.5" r="2.3"/><circle cx="962.0" cy="436.0" r="2.3"/><circle cx="962.1" cy="436.8" r="2.3"/><circle cx="962.5" cy="437.4" r="2.3"/><circle cx="963.0" cy="438.0" r="2.3"/><circle cx="963.9" cy="438.0" r="2.3"/><circle cx="964.1" cy="438.8" r="2.3"/><circle cx="964.6" cy="439.3" r="2.3"/><circle cx="965.3" cy="439.7" r="2.3"/><circle cx="965.2" cy="440.6" r="2.3"/><circle cx="965.5" cy="441.2" r="2.3"/><circle cx="966.4" cy="441.5" r="2.3"/><circle cx="966.3" cy="442.4" r="2.3"/><circle cx="967.0" cy="442.8" r="2.3"/><circle cx="967.3" cy="443.4" r="2.3"/><circle cx="967.3" cy="444.3" r="2.3"/><circle cx="968.0" cy="444.8" r="2.3"/><circle cx="968.9" cy="444.8" r="2.3"/><circle cx="969.2" cy="445.5" r="2.3"/><circle cx="969.7" cy="446.0" r="2.3"/><circle cx="970.3" cy="446.3" r="2.3"/><circle cx="970.9" cy="446.7" r="2.3"/><circle cx="971.4" cy="447.3" r="2.3"/><circle cx="971.7" cy="448.0" r="2.3"/><circle cx="972.6" cy="448.1" r="2.3"/><circle cx="972.7" cy="448.9" r="2.3"/><circle cx="973.3" cy="449.3" r="2.3"/><circle cx="974.0" cy="449.6" r="2.3"/><circle cx="974.3" cy="450.3" r="2.3"/><circle cx="974.6" cy="450.9" r="2.3"/><circle cx="975.2" cy="451.4" r="2.3"/><circle cx="975.9" cy="451.6" r="2.3"/><circle cx="976.0" cy="452.6" r="2.3"/><circle cx="976.7" cy="452.8" r="2.3"/><circle cx="977.3" cy="453.3" r="2.3"/><circle cx="978.3" cy="453.1" r="2.3"/><circle cx="978.6" cy="453.8" r="2.3"/><circle cx="979.2" cy="454.3" r="2.3"/><circle cx="979.2" cy="455.3" r="2.3"/><circle cx="979.9" cy="455.6" r="2.3"/><circle cx="980.6" cy="455.9" r="2.3"/><circle cx="981.0" cy="456.4" r="2.3"/><circle cx="981.4" cy="457.1" r="2.3"/><circle cx="982.0" cy="457.4" r="2.3"/><circle cx="982.9" cy="457.5" r="2.3"/><circle cx="983.2" cy="458.0" r="2.3"/><circle cx="982.8" cy="458.9" r="2.3"/><circle cx="983.2" cy="459.5" r="2.3"/><circle cx="983.3" cy="460.2" r="2.3"/><circle cx="984.0" cy="460.7" r="2.3"/><circle cx="984.4" cy="461.2" r="2.3"/><circle cx="984.5" cy="462.1" r="2.3"/><circle cx="985.2" cy="462.4" r="2.3"/><circle cx="985.9" cy="462.7" r="2.3"/><circle cx="985.9" cy="463.6" r="2.3"/><circle cx="986.7" cy="463.9" r="2.3"/><circle cx="987.0" cy="464.5" r="2.3"/><circle cx="987.9" cy="464.6" r="2.3"/><circle cx="988.0" cy="465.6" r="2.3"/><circle cx="988.9" cy="465.6" r="2.3"/><circle cx="989.0" cy="466.5" r="2.3"/><circle cx="989.8" cy="466.7" r="2.3"/><circle cx="990.4" cy="467.0" r="2.3"/><circle cx="990.9" cy="467.6" r="2.3"/><circle cx="991.1" cy="468.4" r="2.3"/><circle cx="991.9" cy="468.5" r="2.3"/><circle cx="992.4" cy="468.9" r="2.3"/><circle cx="992.8" cy="469.7" r="2.3"/><circle cx="993.5" cy="469.8" r="2.3"/><circle cx="994.2" cy="470.0" r="2.3"/><circle cx="994.9" cy="470.3" r="2.3"/><circle cx="995.6" cy="470.5" r="2.3"/><circle cx="996.1" cy="471.0" r="2.3"/><circle cx="996.5" cy="471.3" r="2.3"/><circle cx="997.2" cy="471.5" r="2.3"/><circle cx="997.7" cy="472.1" r="2.3"/><circle cx="998.5" cy="471.9" r="2.3"/><circle cx="999.1" cy="472.3" r="2.3"/><circle cx="999.9" cy="472.3" r="2.3"/><circle cx="1000.3" cy="472.5" r="2.3"/><circle cx="1000.9" cy="472.0" r="2.3"/><circle cx="1001.7" cy="472.0" r="2.3"/><circle cx="1002.3" cy="471.7" r="2.3"/><circle cx="1003.0" cy="472.0" r="2.3"/><circle cx="1003.3" cy="471.4" r="2.3"/><circle cx="1003.5" cy="470.7" r="2.3"/><circle cx="1004.2" cy="470.3" r="2.3"/><circle cx="1004.8" cy="469.9" r="2.3"/><circle cx="1004.8" cy="469.2" r="2.3"/><circle cx="1005.3" cy="468.6" r="2.3"/><circle cx="1005.3" cy="467.8" r="2.3"/><circle cx="1005.5" cy="467.2" r="2.3"/><circle cx="1005.8" cy="466.5" r="2.3"/><circle cx="1005.8" cy="465.8" r="2.3"/><circle cx="1006.0" cy="465.1" r="2.3"/><circle cx="1006.2" cy="464.5" r="2.3"/><circle cx="1006.4" cy="463.8" r="2.3"/><circle cx="1006.3" cy="463.1" r="2.3"/><circle cx="1006.6" cy="462.4" r="2.3"/><circle cx="1006.7" cy="461.7" r="2.3"/><circle cx="1006.8" cy="461.0" r="2.3"/><circle cx="1006.8" cy="460.3" r="2.3"/><circle cx="1006.9" cy="459.6" r="2.3"/><circle cx="1006.9" cy="458.9" r="2.3"/><circle cx="1007.0" cy="458.2" r="2.3"/><circle cx="1007.1" cy="457.5" r="2.3"/><circle cx="1007.5" cy="456.9" r="2.3"/><circle cx="1007.5" cy="456.2" r="2.3"/><circle cx="1007.5" cy="455.5" r="2.3"/><circle cx="1007.6" cy="454.8" r="2.3"/><circle cx="1007.9" cy="454.1" r="2.3"/><circle cx="1008.0" cy="453.4" r="2.3"/><circle cx="1008.0" cy="452.7" r="2.3"/><circle cx="1008.0" cy="452.0" r="2.3"/><circle cx="1008.1" cy="451.3" r="2.3"/><circle cx="1008.3" cy="450.6" r="2.3"/><circle cx="1008.4" cy="449.9" r="2.3"/><circle cx="1008.3" cy="449.2" r="2.3"/><circle cx="1008.4" cy="448.5" r="2.3"/><circle cx="1008.4" cy="447.8" r="2.3"/><circle cx="1008.6" cy="447.1" r="2.3"/><circle cx="1008.6" cy="446.4" r="2.3"/><circle cx="1008.5" cy="445.7" r="2.3"/><circle cx="1008.3" cy="445.0" r="2.3"/><circle cx="1008.6" cy="444.3" r="2.3"/><circle cx="1008.4" cy="443.6" r="2.3"/><circle cx="1008.5" cy="442.9" r="2.3"/><circle cx="1008.3" cy="442.2" r="2.3"/><circle cx="1008.5" cy="441.5" r="2.3"/><circle cx="1008.5" cy="440.8" r="2.3"/><circle cx="1008.5" cy="440.1" r="2.3"/><circle cx="1008.4" cy="439.4" r="2.3"/><circle cx="1008.6" cy="438.7" r="2.3"/><circle cx="1008.8" cy="438.5" r="2.3"/>
</g>
<rect x="1006.3" y="434" width="4.6" height="6" rx="0.9" fill="#0000ff"/>
<line x1="275.5" y1="436.55" x2="1008.5" y2="436.55" stroke="#ff0000" stroke-width="2" stroke-dasharray="2 6.333"/>
<g class="tk" text-anchor="middle">
<text x="274.9" y="828.3">0</text><text x="421.8" y="828.3">0.2</text><text x="568.2" y="828.3">0.4</text><text x="715.3" y="828.3">0.6</text><text x="861.8" y="828.3">0.8</text><text x="1008.4" y="828.3">1</text>
</g>
<g class="tk" text-anchor="end">
<text x="266.2" y="74.7">0.1</text><text x="265.6" y="148.0">0.08</text><text x="265.6" y="222.0">0.06</text><text x="265.9" y="294.7">0.04</text><text x="265.9" y="367.7">0.02</text><text x="265.6" y="442.0">0</text><text x="266.7" y="514.7">-0.02</text><text x="266.7" y="588.0">-0.04</text><text x="266.7" y="662.0">-0.06</text><text x="266.7" y="734.8">-0.08</text><text x="265.4" y="808.0">-0.1</text>
</g>
<text class="tt" x="641.2" y="57.6" text-anchor="middle">gamma</text>
<text class="lb" x="640.2" y="854.8" text-anchor="middle">full</text>
<text class="lb" transform="translate(206.3 436.5) rotate(-90)" text-anchor="middle">accel-full</text>
</svg>
</body>
</html>
